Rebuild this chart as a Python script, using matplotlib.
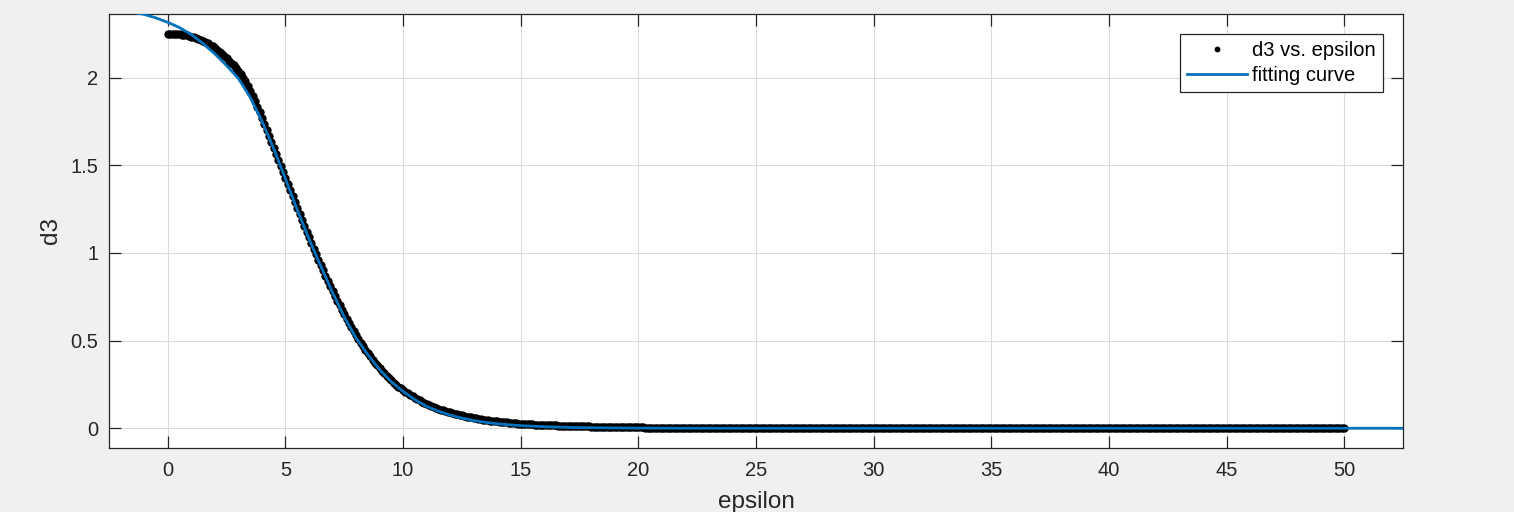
import numpy as np
import matplotlib
matplotlib.use("Agg")
import matplotlib.pyplot as plt

# ---- data ----
# measured points, sampled every 0.1 in epsilon
epsilon_head = np.round(np.arange(0, 20.25, 0.1), 2)
d3_head = [
    2.250, 2.250, 2.249, 2.249, 2.248, 2.246, 2.244, 2.242, 2.240, 2.237,
    2.234, 2.230, 2.226, 2.221, 2.216, 2.210, 2.203, 2.195, 2.187, 2.178,
    2.168, 2.158, 2.147, 2.135, 2.123, 2.110, 2.097, 2.083, 2.069, 2.055,
    2.040, 2.021, 2.000, 1.978, 1.953, 1.925, 1.896, 1.865, 1.834, 1.802,
    1.770, 1.736, 1.702, 1.668, 1.634, 1.600, 1.566, 1.531, 1.497, 1.462,
    1.428, 1.393, 1.359, 1.324, 1.290, 1.255, 1.221, 1.188, 1.154, 1.121,
    1.088, 1.056, 1.024, 0.992, 0.961, 0.930, 0.900, 0.870, 0.840, 0.811,
    0.783, 0.755, 0.728, 0.701, 0.675, 0.650, 0.625, 0.600, 0.576, 0.553,
    0.530, 0.509, 0.488, 0.467, 0.447, 0.428, 0.410, 0.392, 0.375, 0.358,
    0.342, 0.327, 0.313, 0.299, 0.286, 0.273, 0.261, 0.249, 0.238, 0.228,
    0.218, 0.208, 0.199, 0.190, 0.182, 0.174, 0.166, 0.159, 0.152, 0.146,
    0.140, 0.134, 0.128, 0.122, 0.117, 0.112, 0.107, 0.103, 0.098, 0.094,
    0.090, 0.086, 0.083, 0.079, 0.076, 0.073, 0.070, 0.067, 0.064, 0.062,
    0.059, 0.057, 0.055, 0.053, 0.050, 0.048, 0.046, 0.044, 0.043, 0.041,
    0.039, 0.038, 0.036, 0.035, 0.033, 0.032, 0.031, 0.030, 0.028, 0.027,
    0.026, 0.025, 0.024, 0.024, 0.023, 0.022, 0.021, 0.020, 0.020, 0.019,
    0.018, 0.018, 0.017, 0.017, 0.016, 0.016, 0.015, 0.015, 0.014, 0.014,
    0.014, 0.013, 0.013, 0.013, 0.012, 0.012, 0.012, 0.011, 0.011, 0.011,
    0.010, 0.010, 0.010, 0.010, 0.009, 0.009, 0.009, 0.009, 0.009, 0.008,
    0.008, 0.008, 0.008, 0.008, 0.008, 0.008, 0.007, 0.007, 0.007, 0.007,
    0.007, 0.007, 0.007]
# flat tail of the measurements (reads as zero from 20.3 to 50)
epsilon_tail = np.round(np.arange(20.3, 50.001, 0.1), 2)
d3_tail = [0.0] * len(epsilon_tail)

fit_eps = [-1.5, -1.0, -0.5, 0.0, 0.5, 1.0, 1.5, 2.0, 2.5, 3.0,
           3.5, 4.0, 4.5, 5.0, 5.5, 6.0, 6.5, 7.0, 7.5, 8.0,
           8.5, 9.0, 9.5, 10.0, 10.5, 11.0, 11.5, 12.0, 12.5, 13.0,
           13.5, 14.0, 14.5, 15.0, 16.0, 17.0, 18.0, 19.0, 20.0, 22.0,
           25.0, 30.0, 40.0, 53.0]
fit_d3 = [2.372, 2.360, 2.340, 2.315, 2.285, 2.245, 2.194, 2.135, 2.068, 1.995,
          1.888, 1.752, 1.595, 1.422, 1.247, 1.080, 0.925, 0.775, 0.635, 0.515,
          0.420, 0.335, 0.265, 0.210, 0.163, 0.125, 0.097, 0.075, 0.058, 0.044,
          0.034, 0.026, 0.020, 0.015, 0.009, 0.005, 0.003, 0.002, 0.001, 0.0005,
          0.0, 0.0, 0.0, 0.0]

x_ticks = [0, 5, 10, 15, 20, 25, 30, 35, 40, 45, 50]
y_ticks = [0, 0.5, 1, 1.5, 2]
y_ticklabels = ["0", "0.5", "1", "1.5", "2"]

# ---- style ----
plt.rcParams['font.family'] = ['Liberation Sans', 'DejaVu Sans']
dark = '#262626'
fig = plt.figure(figsize=(15.14, 5.12), dpi=100, facecolor='#f0f0f0')
ax = fig.add_axes([109/1514, 1 - 448/512, (1403 - 109)/1514, (448 - 14)/512])
ax.set_facecolor('white')

eps_all = list(epsilon_head) + list(epsilon_tail)
d3_all = list(d3_head) + list(d3_tail)
ax.plot(eps_all, d3_all, linestyle='none', marker='o', markersize=6.0,
        color='black', markeredgewidth=0, label='d3 vs. epsilon', zorder=2)
ax.plot(fit_eps, fit_d3, color='#0072BD', linewidth=2.0, label='fitting curve', zorder=3)

ax.set_xlim(-2.5, 52.5)
ax.set_ylim(-0.1125, 2.3625)
ax.set_xticks(x_ticks)
ax.set_xticklabels([str(t) for t in x_ticks])
ax.set_yticks(y_ticks)
ax.set_yticklabels(y_ticklabels)

ax.grid(True, color='#dcdcdc', linewidth=0.8)
ax.set_axisbelow(True)
for s in ax.spines.values():
    s.set_color(dark)
    s.set_linewidth(0.9)
ax.tick_params(axis='both', which='both', direction='in', length=8.6, width=0.9,
               colors=dark, labelsize=14.5, top=True, right=True, pad=7.5)
ax.tick_params(axis='x', pad=9.5)
for lab in ax.get_xticklabels() + ax.get_yticklabels():
    lab.set_color(dark)

ax.set_xlabel('epsilon', fontsize=17.5, color=dark, labelpad=8)
ax.set_ylabel('d3', fontsize=17.5, color=dark, labelpad=6)

leg = ax.legend(loc='upper right', fontsize=14.5, frameon=True, fancybox=False,
                edgecolor=dark, framealpha=1, borderaxespad=1.0, borderpad=0.35,
                handlelength=3.0, handletextpad=0.25, labelspacing=0.3,
                markerscale=0.7)
leg.get_frame().set_linewidth(0.9)

fig.savefig('out.png', dpi=100, facecolor=fig.get_facecolor())
